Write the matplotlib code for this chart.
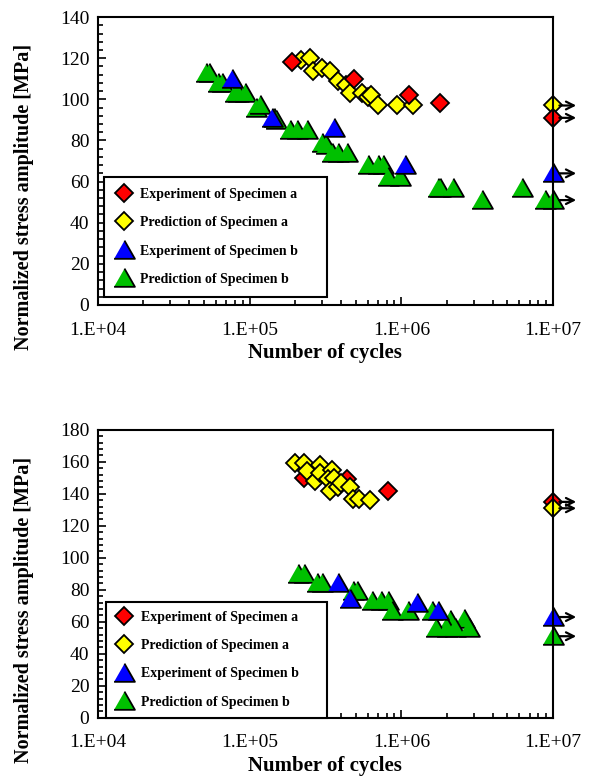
import matplotlib
matplotlib.use("Agg")
import matplotlib.pyplot as plt
from matplotlib.ticker import FixedLocator, MultipleLocator, NullFormatter

# ---------------- data (top chart) ----------------
top_exp_a_N = [1.9e5, 4.9e5, 1.12e6, 1.8e6, 1e7]
top_exp_a_S = [118, 110, 102, 98, 91]
top_pred_a_N = [2.2e5, 2.5e5, 2.6e5, 3.0e5, 3.4e5, 3.8e5, 4.3e5, 4.6e5, 5.5e5, 6.0e5,
                6.3e5, 7.0e5, 9.4e5, 1.2e6, 1e7]
top_pred_a_S = [119, 120, 114, 115, 114, 109, 107, 103, 103, 101, 102, 97, 97, 97, 97]
top_exp_b_N = [7.7e4, 1.4e5, 3.6e5, 1.05e6, 1e7]
top_exp_b_S = [110, 91, 86, 68, 64]
top_pred_b_N = [5.2e4, 5.4e4, 6.2e4, 6.6e4, 8.0e4, 8.4e4, 9.3e4, 1.1e5, 1.17e5, 1.45e5,
                1.5e5, 1.85e5, 2.05e5, 2.4e5, 3.0e5, 3.2e5, 3.5e5, 3.8e5, 4.4e5, 6.0e5,
                7.0e5, 7.6e5, 8.2e5, 9.8e5, 1.74e6, 1.8e6, 2.2e6, 3.4e6, 6.2e6, 8.9e6, 1e7]
top_pred_b_S = [113, 113, 108, 108, 103, 103, 103, 96, 97, 91,
                90, 85, 85, 85, 79, 78, 74, 74, 74, 68,
                68, 68, 62, 62, 57, 57, 57, 51, 57, 51, 51]

# ---------------- data (bottom chart) ----------------
bot_exp_a_N = [2.3e5, 4.4e5, 8.2e5, 1e7]
bot_exp_a_S = [150, 149, 142, 135]
bot_pred_a_N = [2.0e5, 2.3e5, 2.9e5, 2.4e5, 2.7e5, 2.9e5, 3.5e5, 3.3e5, 3.6e5, 3.4e5,
                3.8e5, 4.0e5, 4.6e5, 4.8e5, 5.3e5, 6.2e5, 1e7]
bot_pred_a_S = [159, 159, 158, 154, 148, 153, 155, 149, 150, 142,
                144, 147, 144, 137, 137, 136, 131]
bot_exp_b_N = [3.8e5, 4.6e5, 1.26e6, 1.74e6, 1e7]
bot_exp_b_S = [84, 74, 72, 67, 63]
bot_pred_b_N = [2.1e5, 2.3e5, 2.8e5, 3.0e5, 4.8e5, 5.1e5, 6.4e5, 7.4e5, 8.2e5, 8.7e5,
                1.1e6, 1.6e6, 2.1e6, 2.6e6, 1.7e6, 2.0e6, 2.25e6, 2.8e6, 1e7]
bot_pred_b_S = [90, 90, 84, 84, 79, 79, 73, 73, 73, 67,
                67, 67, 61, 62, 56, 56, 56, 56, 51]

labels = ["Experiment of Specimen a", "Prediction of Specimen a",
          "Experiment of Specimen b", "Prediction of Specimen b"]
x_ticks = [1e4, 1e5, 1e6, 1e7]
x_ticklabels = ["1.E+04", "1.E+05", "1.E+06", "1.E+07"]
runout = 1e7

plt.rcParams['font.family'] = ['Liberation Serif', 'DejaVu Serif']

fig = plt.figure(figsize=(5.96, 7.76), dpi=100)
ax1 = fig.add_axes([0.164, 0.607, 0.764, 0.371])
ax2 = fig.add_axes([0.164, 0.075, 0.764, 0.371])

tri = [(-1, -0.8), (1, -0.8), (0, 0.95)]
styles = {
    "ea": dict(marker="D", ms=9.5, mfc="#ff0000"),
    "pa": dict(marker="D", ms=9.5, mfc="#ffff00"),
    "eb": dict(marker=tri, ms=15, mfc="#0000ff"),
    "pb": dict(marker=tri, ms=15, mfc="#00c000"),
}


def plot_series(ax, key, N, S, label):
    st = styles[key]
    ax.plot(N, S, linestyle="none", marker=st["marker"], ms=st["ms"],
            mfc=st["mfc"], mec="black", mew=1.3, label=label, clip_on=False)
    for n, s in zip(N, S):
        if n >= runout:
            ax.annotate("", xy=(n * 1.42, s), xytext=(n * 1.10, s),
                        arrowprops=dict(arrowstyle="->", lw=1.6, color="black",
                                        mutation_scale=14, shrinkA=0, shrinkB=0),
                        annotation_clip=False, zorder=5)


def style_axes(ax, ymax):
    ax.set_xscale("log")
    ax.set_xlim(1e4, 1e7)
    ax.set_ylim(0, ymax)
    ax.xaxis.set_major_locator(FixedLocator(x_ticks))
    ax.set_xticklabels(x_ticklabels)
    ax.xaxis.set_minor_locator(FixedLocator(
        [m * 10 ** e for e in range(4, 7) for m in range(2, 10)]))
    ax.xaxis.set_minor_formatter(NullFormatter())
    ax.yaxis.set_major_locator(MultipleLocator(20))
    ax.yaxis.set_minor_locator(MultipleLocator(4))
    ax.tick_params(which="both", direction="in", top=False, right=False,
                   labelsize=14, width=1.2)
    ax.tick_params(which="major", length=6)
    ax.tick_params(which="minor", length=3.5)
    ax.tick_params(axis="y", pad=6)
    ax.tick_params(axis="x", pad=12)
    for sp in ax.spines.values():
        sp.set_linewidth(1.5)
    ax.set_xlabel("Number of cycles", fontsize=15, fontweight="bold", labelpad=3)
    ax.set_ylabel("Normalized stress amplitude [MPa]", fontsize=14.5,
                  fontweight="bold")
    ax.yaxis.set_label_coords(-0.14, 0.375)


def add_legend(ax, anchor, spacing, pad):
    h, l = ax.get_legend_handles_labels()
    order = [l.index(x) for x in labels]
    leg = ax.legend([h[i] for i in order], labels, loc="lower left",
                    bbox_to_anchor=anchor, mode="expand",
                    prop=dict(family="Liberation Serif", weight="bold", size=10),
                    frameon=True, fancybox=False, edgecolor="black",
                    labelspacing=spacing, handlelength=1.3, handletextpad=0.55,
                    borderpad=pad, borderaxespad=0)
    leg.get_frame().set_linewidth(1.5)
    leg.get_frame().set_alpha(1)
    return leg


# top chart (red on top of yellow)
plot_series(ax1, "pb", top_pred_b_N, top_pred_b_S, labels[3])
plot_series(ax1, "eb", top_exp_b_N, top_exp_b_S, labels[2])
plot_series(ax1, "pa", top_pred_a_N, top_pred_a_S, labels[1])
plot_series(ax1, "ea", top_exp_a_N, top_exp_a_S, labels[0])
style_axes(ax1, 140)
add_legend(ax1, (0.013, 0.028, 0.49, 0.43), 1.1, 0.8)

# bottom chart (yellow on top of red)
plot_series(ax2, "ea", bot_exp_a_N, bot_exp_a_S, labels[0])
plot_series(ax2, "pa", bot_pred_a_N, bot_pred_a_S, labels[1])
plot_series(ax2, "pb", bot_pred_b_N, bot_pred_b_S, labels[3])
plot_series(ax2, "eb", bot_exp_b_N, bot_exp_b_S, labels[2])
style_axes(ax2, 180)
add_legend(ax2, (0.018, 0.0, 0.485, 0.41), 1.1, 0.65)

fig.savefig("out.png", dpi=100)
